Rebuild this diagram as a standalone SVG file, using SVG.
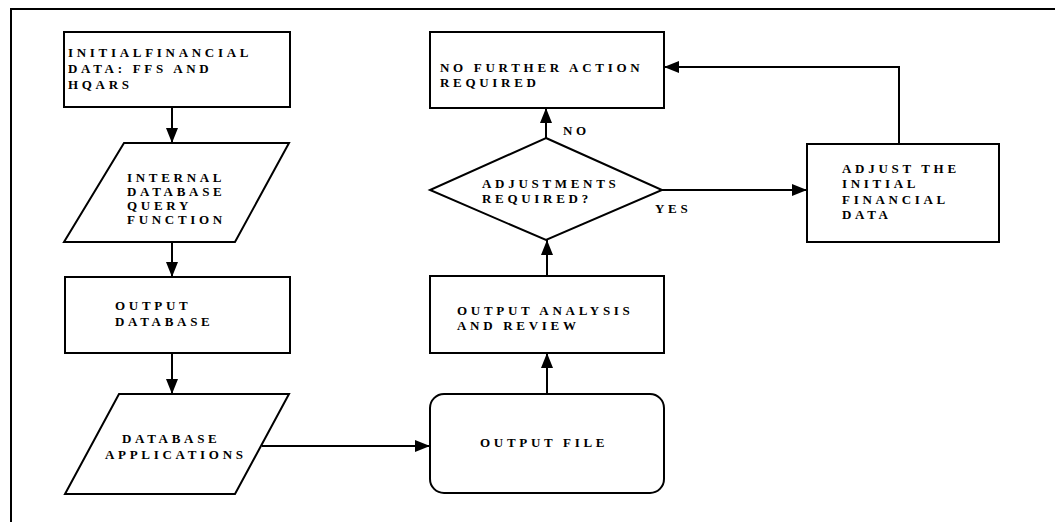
<svg xmlns="http://www.w3.org/2000/svg" width="1055" height="522" viewBox="0 0 1055 522">
<style>
.s{fill:#fff;stroke:#000;stroke-width:2}
.c{fill:none;stroke:#000;stroke-width:2}
.t{font-family:"Liberation Serif",serif;font-weight:bold;font-size:13px;letter-spacing:3.7px;fill:#000}
</style>
<defs>
<marker id="a" viewBox="0 0 15 12" refX="15" refY="6" markerWidth="15" markerHeight="12" markerUnits="userSpaceOnUse" orient="auto">
<path d="M0,0 L15,6 L0,12 z" fill="#000"/>
</marker>
</defs>
<rect width="1055" height="522" fill="#fff"/>
<g id="frame">
<path class="c" d="M11,522 V9 H1055" stroke-width="2.5"/>
</g>
<g id="connectors">
<path class="c" d="M172,107 V143" marker-end="url(#a)"/>
<path class="c" d="M172,242 V277" marker-end="url(#a)"/>
<path class="c" d="M172,353 V394" marker-end="url(#a)"/>
<path class="c" d="M262,446 H430" marker-end="url(#a)"/>
<path class="c" d="M547,394 V353" marker-end="url(#a)"/>
<path class="c" d="M547,276 V240" marker-end="url(#a)"/>
<path class="c" d="M546,138 V108" marker-end="url(#a)"/>
<path class="c" d="M662,190 H807" marker-end="url(#a)"/>
<path class="c" d="M899,144 V67 H664" marker-end="url(#a)"/>
<text class="t" x="563" y="135">NO</text>
<text class="t" x="655" y="213">YES</text>
</g>
<g id="n1">
<rect class="s" x="64" y="32" width="226" height="75"/>
<text class="t" x="68" y="57">INITIALFINANCIAL</text>
<text class="t" x="68" y="73">DATA: FFS AND</text>
<text class="t" x="68" y="89">HQARS</text>
</g>
<g id="n2">
<path class="s" d="M124,143 H289 L235,242 H64 z"/>
<text class="t" x="127" y="182">INTERNAL</text>
<text class="t" x="127" y="196">DATABASE</text>
<text class="t" x="127" y="210">QUERY</text>
<text class="t" x="127" y="224">FUNCTION</text>
</g>
<g id="n3">
<rect class="s" x="65" y="277" width="225" height="76"/>
<text class="t" x="115" y="310">OUTPUT</text>
<text class="t" x="115" y="326">DATABASE</text>
</g>
<g id="n4">
<path class="s" d="M119,394 H289 L235,494 H65 z"/>
<text class="t" x="122" y="443">DATABASE</text>
<text class="t" x="105" y="459">APPLICATIONS</text>
</g>
<g id="n5">
<rect class="s" x="430" y="394" width="234" height="99" rx="14"/>
<text class="t" x="480" y="447">OUTPUT FILE</text>
</g>
<g id="n6">
<rect class="s" x="430" y="276" width="234" height="77"/>
<text class="t" x="457" y="315">OUTPUT ANALYSIS</text>
<text class="t" x="457" y="330">AND REVIEW</text>
</g>
<g id="n7">
<path class="s" d="M546,138 L662,190 L546,240 L430,190 z"/>
<text class="t" x="482" y="188">ADJUSTMENTS</text>
<text class="t" x="482" y="203">REQUIRED?</text>
</g>
<g id="n8">
<rect class="s" x="430" y="32" width="234" height="76"/>
<text class="t" x="440" y="72">NO FURTHER ACTION</text>
<text class="t" x="440" y="87">REQUIRED</text>
</g>
<g id="n9">
<rect class="s" x="807" y="144" width="192" height="98"/>
<text class="t" x="842" y="173">ADJUST THE</text>
<text class="t" x="842" y="188">INITIAL</text>
<text class="t" x="842" y="204">FINANCIAL</text>
<text class="t" x="842" y="219">DATA</text>
</g>
</svg>
